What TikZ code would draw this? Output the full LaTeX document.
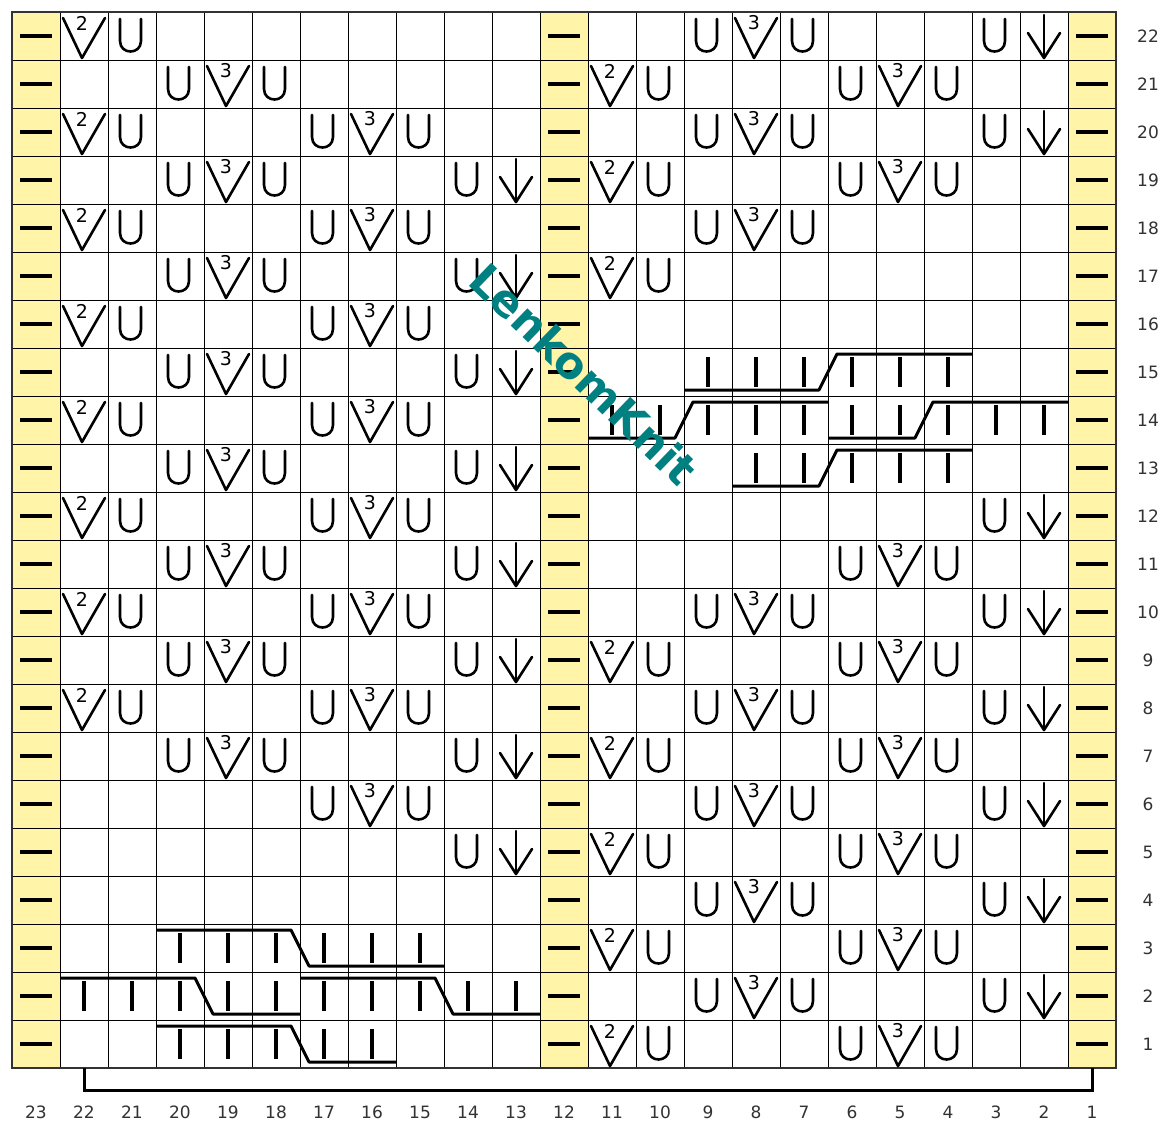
\documentclass[tikz,border=0pt]{standalone}
\usepackage{fontspec}
\setmainfont{DejaVu Sans}
\definecolor{chartyellow}{RGB}{255,244,168}
\definecolor{wmteal}{RGB}{0,128,128}
\definecolor{labgray}{RGB}{50,50,50}
\tikzset{
  gridline/.style={line width=1pt, black},
  symline/.style={line width=2.6pt, black, line cap=round, line join=round},
  purlline/.style={line width=3.4pt, black},
  dashline/.style={line width=4pt, black},
  cableline/.style={line width=3pt, black, line join=round},
  lab/.style={text=labgray, font=\fontsize{17}{17}\selectfont, inner sep=0pt},
  digit/.style={font=\fontsize{19}{19}\selectfont, inner sep=0pt},
  cellat/.style 2 args={shift={({12+(23-#1)*48},{12+(22-#2)*48})}},
}
\newcommand\symU[2]{\begin{scope}[cellat={#1}{#2}]
  \draw[symline] (12,7) -- (12,29) .. controls (12,43) and (33,43) .. (33,29) -- (33,7);
\end{scope}}
\newcommand\symA[2]{\begin{scope}[cellat={#1}{#2}]
  \draw[symline] (3,6) -- (22,46) -- (45,6);
  \node[digit] at (22,11) {2};
\end{scope}}
\newcommand\symB[2]{\begin{scope}[cellat={#1}{#2}]
  \draw[symline] (3,6) -- (22,46) -- (45,6);
  \node[digit] at (22,11) {3};
\end{scope}}
\newcommand\symD[2]{\begin{scope}[cellat={#1}{#2}]
  \draw[symline] (24,3) -- (24,46);
  \draw[symline] (8,21) -- (24,46) -- (40,21);
\end{scope}}
\newcommand\symP[2]{\begin{scope}[cellat={#1}{#2}]
  \draw[purlline] (24,9) -- (24,39);
\end{scope}}
\newcommand\symM[2]{\begin{scope}[cellat={#1}{#2}]
  \draw[dashline] (8,24) -- (40,24);
\end{scope}}
\begin{document}
\begin{tikzpicture}[x=1pt, y=-1pt]
\useasboundingbox (0,0) rectangle (1164,1122);
\fill[white] (0,0) rectangle (1164,1122);
% yellow edge columns
\foreach \xx in {12,540,1068} \fill[chartyellow] (\xx,12) rectangle ++(48,1056);
% grid
\foreach \i in {0,...,23} \draw[gridline] ({12+\i*48},12) -- ({12+\i*48},1068);
\foreach \j in {0,...,22} \draw[gridline] (12,{12+\j*48}) -- (1116,{12+\j*48});
\draw[line width=1.5pt, black!80] (12,12) rectangle (1116,1068);
% dashes in yellow columns
\foreach \r in {1,...,22} { \symM{23}{\r} \symM{12}{\r} \symM{1}{\r} }
% symbols
\foreach \c/\r/\t in {
 22/22/A,21/22/U,9/22/U,8/22/B,7/22/U,3/22/U,2/22/D,
 20/21/U,19/21/B,18/21/U,11/21/A,10/21/U,6/21/U,5/21/B,4/21/U,
 22/20/A,21/20/U,17/20/U,16/20/B,15/20/U,9/20/U,8/20/B,7/20/U,3/20/U,2/20/D,
 20/19/U,19/19/B,18/19/U,14/19/U,13/19/D,11/19/A,10/19/U,6/19/U,5/19/B,4/19/U,
 22/18/A,21/18/U,17/18/U,16/18/B,15/18/U,9/18/U,8/18/B,7/18/U,
 20/17/U,19/17/B,18/17/U,14/17/U,13/17/D,11/17/A,10/17/U,
 22/16/A,21/16/U,17/16/U,16/16/B,15/16/U,
 20/15/U,19/15/B,18/15/U,14/15/U,13/15/D,
 9/15/P,8/15/P,7/15/P,6/15/P,5/15/P,4/15/P,
 22/14/A,21/14/U,17/14/U,16/14/B,15/14/U,
 11/14/P,10/14/P,9/14/P,8/14/P,7/14/P,6/14/P,5/14/P,4/14/P,3/14/P,2/14/P,
 20/13/U,19/13/B,18/13/U,14/13/U,13/13/D,
 8/13/P,7/13/P,6/13/P,5/13/P,4/13/P,
 22/12/A,21/12/U,17/12/U,16/12/B,15/12/U,3/12/U,2/12/D,
 20/11/U,19/11/B,18/11/U,14/11/U,13/11/D,6/11/U,5/11/B,4/11/U,
 22/10/A,21/10/U,17/10/U,16/10/B,15/10/U,9/10/U,8/10/B,7/10/U,3/10/U,2/10/D,
 20/9/U,19/9/B,18/9/U,14/9/U,13/9/D,11/9/A,10/9/U,6/9/U,5/9/B,4/9/U,
 22/8/A,21/8/U,17/8/U,16/8/B,15/8/U,9/8/U,8/8/B,7/8/U,3/8/U,2/8/D,
 20/7/U,19/7/B,18/7/U,14/7/U,13/7/D,11/7/A,10/7/U,6/7/U,5/7/B,4/7/U,
 17/6/U,16/6/B,15/6/U,9/6/U,8/6/B,7/6/U,3/6/U,2/6/D,
 14/5/U,13/5/D,11/5/A,10/5/U,6/5/U,5/5/B,4/5/U,
 9/4/U,8/4/B,7/4/U,3/4/U,2/4/D,
 20/3/P,19/3/P,18/3/P,17/3/P,16/3/P,15/3/P,11/3/A,10/3/U,6/3/U,5/3/B,4/3/U,
 22/2/P,21/2/P,20/2/P,19/2/P,18/2/P,17/2/P,16/2/P,15/2/P,14/2/P,13/2/P,
 9/2/U,8/2/B,7/2/U,3/2/U,2/2/D,
 20/1/P,19/1/P,18/1/P,17/1/P,16/1/P,11/1/A,10/1/U,6/1/U,5/1/B,4/1/U}
 { \csname sym\t\endcsname{\c}{\r} }
% cables, right panel
\draw[cableline] (684,390) -- (819,390) -- (837,354) -- (972,354);
\draw[cableline] (588,438) -- (675,438) -- (693,402) -- (828,402);
\draw[cableline] (828,438) -- (915,438) -- (933,402) -- (1068,402);
\draw[cableline] (732,486) -- (819,486) -- (837,450) -- (972,450);
% cables, left panel
\draw[cableline] (156,930) -- (291,930) -- (309,966) -- (444,966);
\draw[cableline] (60,978) -- (195,978) -- (213,1014) -- (300,1014);
\draw[cableline] (300,978) -- (435,978) -- (453,1014) -- (540,1014);
\draw[cableline] (156,1026) -- (291,1026) -- (309,1062) -- (396,1062);
% row numbers
\foreach \r in {1,...,22} \node[lab] (row\r) at (1148,{36+(22-\r)*48}) {\r};
% column numbers
\foreach \c in {1,...,23} \node[lab] (col\c) at ({36+(23-\c)*48},1112) {\c};
% bracket
\coordinate (brL) at (84,1068);
\coordinate (brR) at (1092,1068);
\draw[line width=3pt, black] (brL) -- ++(0,22) -| (brR);
% watermark
\node[text=wmteal, font=\fontsize{44}{44}\selectfont\bfseries, rotate=-44, inner sep=0pt] (wm) at (584,374) {LenkomKnit};
\end{tikzpicture}
\end{document}
